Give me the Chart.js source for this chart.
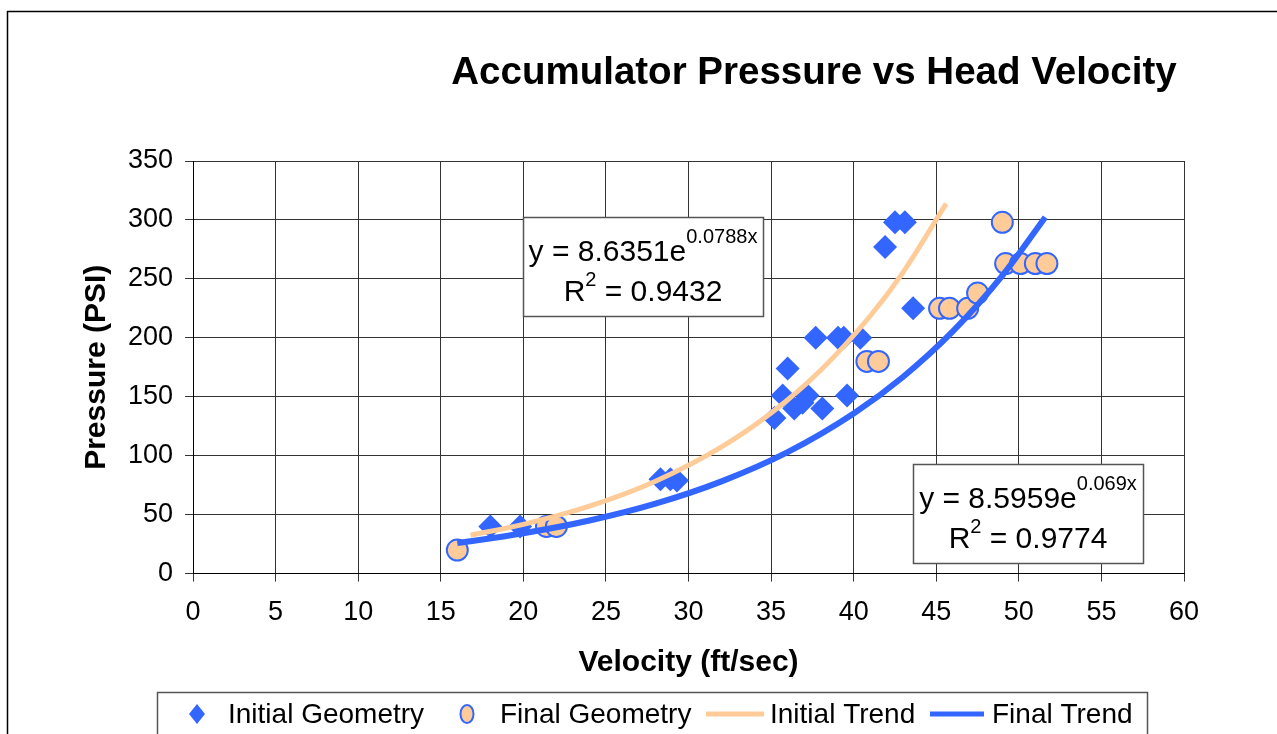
<!DOCTYPE html>
<html>
<head>
<meta charset="utf-8">
<script src="https://cdn.jsdelivr.net/npm/chart.js@4.4.1/dist/chart.umd.min.js"></script>
<style>
  html, body { margin: 0; padding: 0; background: #fff; }
  #wrap { position: relative; width: 1277px; height: 734px; overflow: hidden; }
</style>
</head>
<body>
<div id="wrap"><canvas id="pressureChart" width="1277" height="734"></canvas></div>
<script>
const initialVelocity = [18.0, 19.8, 28.3, 28.9, 29.3, 35.2, 35.7, 36.0, 36.4, 36.9, 37.2, 37.7, 38.1, 39.05, 39.4, 39.6, 40.4, 41.9, 42.5, 43.1, 43.6];
const initialPressure = [40, 40, 80, 80, 79, 132, 151, 174, 140, 145, 151, 200, 140, 200, 200, 151, 200, 277, 298, 298, 225];

const finalVelocity = [16.0, 21.4, 22.0, 40.8, 41.5, 45.2, 45.8, 46.9, 47.5, 49.0, 49.2, 50.1, 51.0, 51.7];
const finalPressure = [20, 40, 40, 180, 180, 225, 225, 225, 238, 298, 263, 263, 263, 263];

// trend curves, points
const initialTrendVelocity = [16.8, 20, 24, 28, 32, 35, 38, 41, 43, 45.6];
const initialTrendPressure = [32.5, 41.8, 57.2, 78.4, 107.5, 136.2, 172.5, 218.5, 255.8, 313.9];

const finalTrendVelocity = [16, 20, 24, 28, 32, 36, 40, 43, 46, 49, 51.6];
const finalTrendPressure = [25.9, 34.2, 45.0, 59.3, 78.2, 103.0, 135.8, 167.0, 205.4, 252.7, 302.3];

const xTicks = [0, 5, 10, 15, 20, 25, 30, 35, 40, 45, 50, 55, 60];
const yTicks = [0, 50, 100, 150, 200, 250, 300, 350];

const seriesNames = ['Initial Geometry', 'Final Geometry', 'Initial Trend', 'Final Trend'];
const equations = [
  { coef: '8.6351', exp: '0.0788x', r2: '0.9432' },
  { coef: '8.5959', exp: '0.069x', r2: '0.9774' }
];

const BLUE = '#3366FF';
const PEACH = '#FFCC99';
const FONT = '"Liberation Sans", Arial, Helvetica, sans-serif';

function pairs(xs, ys) {
  return xs.map((x, i) => ({ x: x, y: ys[i] }));
}

const decor = {
  id: 'decor',
  beforeDraw(chart) {
    const ctx = chart.ctx;
    ctx.save();
    ctx.fillStyle = '#fff';
    ctx.fillRect(0, 0, chart.width, chart.height);
    ctx.strokeStyle = '#000';
    ctx.lineWidth = 1.5;
    ctx.beginPath();
    ctx.moveTo(7.5, chart.height + 5);
    ctx.lineTo(7.5, 11.5);
    ctx.lineTo(chart.width + 5, 11.5);
    ctx.stroke();
    ctx.restore();
  },
  afterDraw(chart) {
    const ctx = chart.ctx;
    ctx.save();
    // title
    ctx.fillStyle = '#000';
    ctx.font = 'bold 38.5px ' + FONT;
    ctx.textAlign = 'center';
    ctx.textBaseline = 'alphabetic';
    ctx.fillText('Accumulator Pressure vs Head Velocity', 814, 84);

    // equation boxes
    drawEquation(ctx, { l: 523, t: 217, r: 763, b: 316 }, equations[0]);
    drawEquation(ctx, { l: 913, t: 464, r: 1143, b: 563 }, equations[1]);

    // legend
    drawLegend(ctx, chart);
    ctx.restore();
  }
};

function drawEquation(ctx, box, eq) {
  ctx.fillStyle = '#fff';
  ctx.fillRect(box.l, box.t, box.r - box.l, box.b - box.t);
  ctx.strokeStyle = '#555';
  ctx.lineWidth = 1.5;
  ctx.strokeRect(box.l + 0.5, box.t + 0.5, box.r - box.l, box.b - box.t);

  const cx = (box.l + box.r) / 2;
  const main = 'y = ' + eq.coef + 'e';
  ctx.fillStyle = '#000';
  ctx.textAlign = 'left';
  ctx.textBaseline = 'alphabetic';
  ctx.font = '30px ' + FONT;
  const w1 = ctx.measureText(main).width;
  ctx.font = '20px ' + FONT;
  const w2 = ctx.measureText(eq.exp).width;
  let x = cx - (w1 + w2) / 2;
  ctx.font = '30px ' + FONT;
  ctx.fillText(main, x, box.t + 44);
  ctx.font = '20px ' + FONT;
  ctx.fillText(eq.exp, x + w1, box.t + 26);

  ctx.font = '30px ' + FONT;
  const r = 'R';
  const rest = ' = ' + eq.r2;
  const wr = ctx.measureText(r).width;
  const wrest = ctx.measureText(rest).width;
  ctx.font = '20px ' + FONT;
  const ws = ctx.measureText('2').width;
  x = cx - (wr + ws + wrest) / 2;
  ctx.font = '30px ' + FONT;
  ctx.fillText(r, x, box.t + 84);
  ctx.fillText(rest, x + wr + ws, box.t + 84);
  ctx.font = '20px ' + FONT;
  ctx.fillText('2', x + wr, box.t + 69);
}

function drawLegend(ctx, chart) {
  const y = 714;
  ctx.fillStyle = '#fff';
  ctx.fillRect(157, 692, 990, 60);
  ctx.strokeStyle = '#555';
  ctx.lineWidth = 1.5;
  ctx.strokeRect(157.5, 692.5, 990, 60);

  const ds = chart.data.datasets;
  // marker positions and label starts
  const slots = [
    { mx: 197, tx: 228 },
    { mx: 467, tx: 500 },
    { mx: 735, tx: 770, w: 58 },
    { mx: 957, tx: 992, w: 54 }
  ];
  ds.forEach((d, i) => {
    const s = slots[i];
    if (d.type === 'line') {
      ctx.strokeStyle = d.borderColor;
      ctx.lineWidth = 5;
      ctx.beginPath();
      ctx.moveTo(s.mx - s.w / 2, y);
      ctx.lineTo(s.mx + s.w / 2, y);
      ctx.stroke();
    } else if (d.pointStyle === 'rectRot') {
      ctx.fillStyle = d.backgroundColor;
      ctx.beginPath();
      ctx.moveTo(s.mx, y - 10);
      ctx.lineTo(s.mx + 8, y);
      ctx.lineTo(s.mx, y + 10);
      ctx.lineTo(s.mx - 8, y);
      ctx.closePath();
      ctx.fill();
    } else {
      ctx.fillStyle = d.backgroundColor;
      ctx.strokeStyle = d.borderColor;
      ctx.lineWidth = 2;
      ctx.beginPath();
      ctx.ellipse(s.mx, y, 6.5, 9, 0, 0, Math.PI * 2);
      ctx.fill();
      ctx.stroke();
    }
    ctx.fillStyle = '#000';
    ctx.font = '28px ' + FONT;
    ctx.textAlign = 'left';
    ctx.textBaseline = 'middle';
    ctx.fillText(d.label, s.tx, y + 1);
  });
}

const ctx = document.getElementById('pressureChart');

new Chart(ctx, {
  data: {
    datasets: [
      {
        type: 'scatter',
        label: seriesNames[0],
        data: pairs(initialVelocity, initialPressure),
        pointStyle: 'rectRot',
        pointRadius: 12,
        pointHoverRadius: 12,
        backgroundColor: BLUE,
        borderColor: BLUE,
        borderWidth: 0,
        order: 3
      },
      {
        type: 'scatter',
        label: seriesNames[1],
        data: pairs(finalVelocity, finalPressure),
        pointStyle: 'circle',
        pointRadius: 10.5,
        pointHoverRadius: 10.5,
        backgroundColor: PEACH,
        borderColor: BLUE,
        borderWidth: 2,
        order: 2
      },
      {
        type: 'line',
        label: seriesNames[2],
        data: pairs(initialTrendVelocity, initialTrendPressure),
        borderColor: PEACH,
        backgroundColor: PEACH,
        borderWidth: 5,
        pointRadius: 0,
        cubicInterpolationMode: 'monotone',
        fill: false,
        order: 1
      },
      {
        type: 'line',
        label: seriesNames[3],
        data: pairs(finalTrendVelocity, finalTrendPressure),
        borderColor: BLUE,
        backgroundColor: BLUE,
        borderWidth: 6,
        pointRadius: 0,
        cubicInterpolationMode: 'monotone',
        fill: false,
        order: 0
      }
    ]
  },
  options: {
    responsive: false,
    animation: false,
    devicePixelRatio: 1,
    layout: { padding: { left: 75, right: 93, top: 161, bottom: 49 } },
    plugins: {
      legend: { display: false },
      tooltip: { enabled: false }
    },
    scales: {
      x: {
        type: 'linear',
        min: xTicks[0],
        max: xTicks[xTicks.length - 1],
        afterBuildTicks: (scale) => { scale.ticks = xTicks.map(v => ({ value: v })); },
        ticks: { color: '#000', font: { family: FONT, size: 27 }, padding: 15 },
        grid: { color: '#333', lineWidth: 1, tickLength: 8, tickColor: '#333' },
        border: { color: '#000', width: 1 },
        title: {
          display: true,
          text: 'Velocity (ft/sec)',
          color: '#000',
          font: { family: FONT, size: 30, weight: 'bold' },
          padding: { top: 1, bottom: 4 }
        }
      },
      y: {
        type: 'linear',
        min: yTicks[0],
        max: yTicks[yTicks.length - 1],
        afterBuildTicks: (scale) => { scale.ticks = yTicks.map(v => ({ value: v })); },
        ticks: { color: '#000', font: { family: FONT, size: 27 }, padding: 12 },
        grid: { color: '#333', lineWidth: 1, tickLength: 8, tickColor: '#333' },
        border: { color: '#000', width: 1 },
        title: {
          display: true,
          text: 'Pressure (PSI)',
          color: '#000',
          font: { family: FONT, size: 30, weight: 'bold' },
          padding: { top: 4, bottom: 1 }
        }
      }
    }
  },
  plugins: [decor]
});
</script>
</body>
</html>
